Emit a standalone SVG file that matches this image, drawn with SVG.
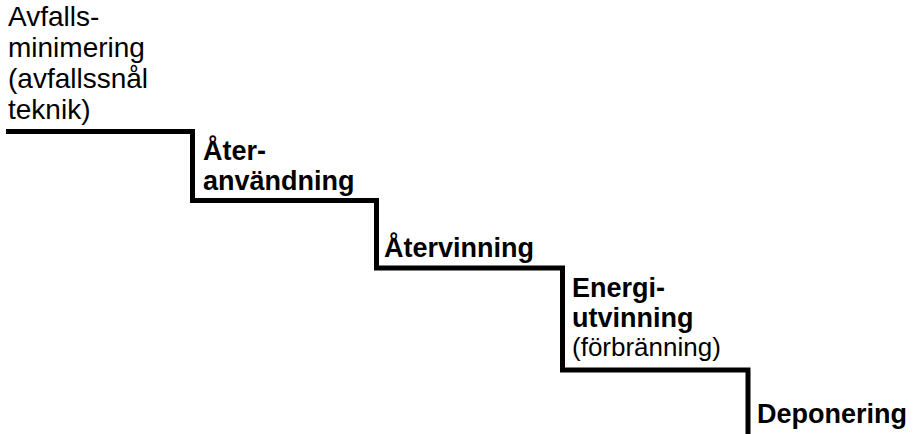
<svg xmlns="http://www.w3.org/2000/svg" width="917" height="434" viewBox="0 0 917 434">
<style>
text{font-family:"Liberation Sans",Arial,sans-serif;font-size:27px;fill:#000}
.b{font-weight:bold}
.big{font-size:28px}
.sm{font-size:26px}
.stair{fill:none;stroke:#000;stroke-width:5;stroke-linejoin:miter}
</style>
<rect width="917" height="434" fill="#fff"/>
<g id="connectors">
<path class="stair" d="M6,131.5 H192.5 V200.5 H376.5 V268 H562.5 V370 H748 V434"/>
</g>
<g id="avfallsminimering">
<text class="big" x="8" y="26">Avfalls-</text>
<text class="big" x="8" y="57">minimering</text>
<text class="big" x="8" y="88">(avfallssnål</text>
<text class="big" x="8" y="119">teknik)</text>
</g>
<g id="ateranvandning">
<text class="b" x="203" y="160">Åter-</text>
<text class="b" x="203" y="190">användning</text>
</g>
<g id="atervinning">
<text class="b" x="384" y="257">Återvinning</text>
</g>
<g id="energiutvinning">
<text class="b" x="572" y="297">Energi-</text>
<text class="b" x="572" y="327">utvinning</text>
<text class="sm" x="572" y="356">(förbränning)</text>
</g>
<g id="deponering">
<text class="b" x="757" y="423">Deponering</text>
</g>
</svg>
